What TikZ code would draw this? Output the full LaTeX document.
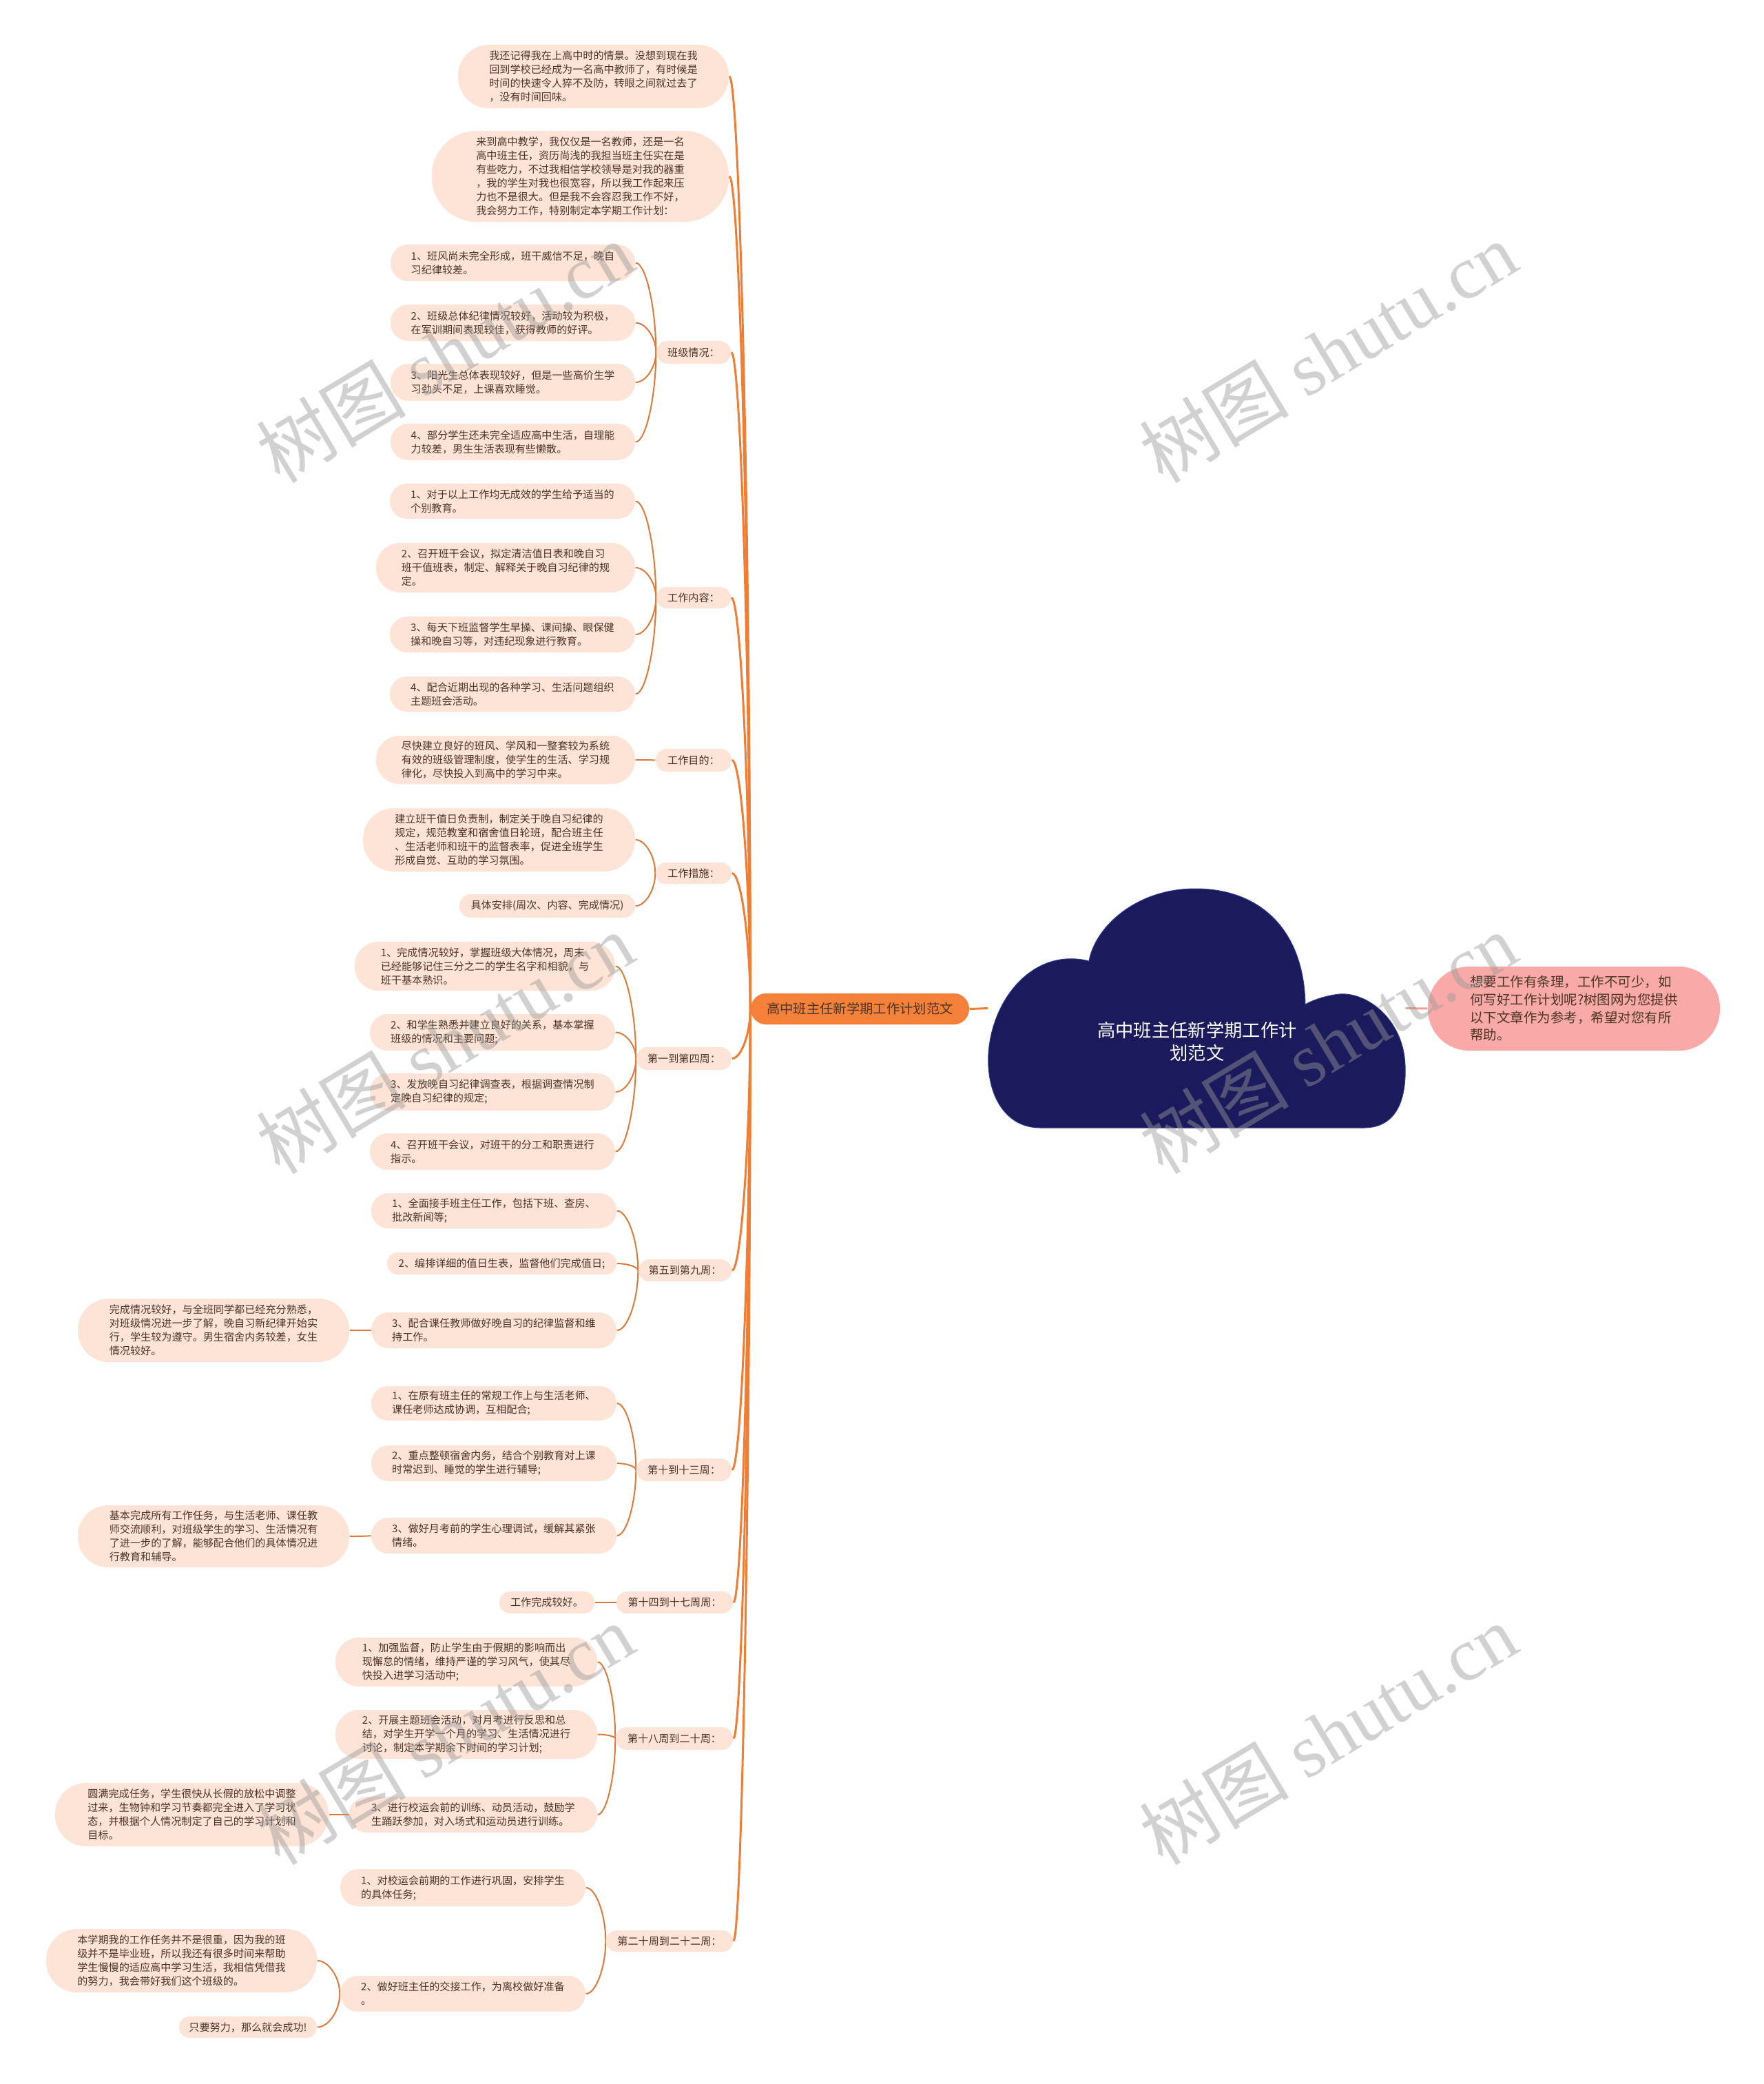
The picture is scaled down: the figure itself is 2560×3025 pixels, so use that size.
\documentclass[tikz,border=0pt]{standalone}
\usepackage{fontspec}
\setmainfont{Noto Sans CJK SC}
\newfontfamily\wmserif{Liberation Serif}
\usetikzlibrary{calc}
\definecolor{peach}{HTML}{FDE4D6}
\definecolor{txt}{HTML}{4A3526}
\definecolor{trunkc}{HTML}{F07D33}
\definecolor{branchc}{HTML}{DD7A3A}
\definecolor{mainfill}{HTML}{F5803A}
\definecolor{navy}{HTML}{1B1A5C}
\definecolor{navyedge}{HTML}{2C3C8C}
\definecolor{pinkfill}{HTML}{F9AAA8}
\definecolor{pinkline}{HTML}{EBA090}
\definecolor{wmgray}{HTML}{9A9A9A}
\pgfdeclarelayer{bg}
\pgfdeclarelayer{paper}
\pgfsetlayers{paper,bg,main}
\tikzset{
  pill/.style={fill=peach, text=txt, inner sep=0pt, align=left, font=\fontsize{4.3pt}{5.69pt}\selectfont},
  mainnode/.style={fill=mainfill, text=txt, inner sep=0pt, align=center, font=\fontsize{5.5pt}{7pt}\selectfont},
  rightnode/.style={fill=pinkfill, text=txt, inner sep=0pt, align=left, font=\fontsize{5.55pt}{7.3pt}\selectfont},
  trunk/.style={draw=trunkc, line width=0.3mm},
  branch/.style={draw=branchc, line width=0.2mm},
  pinkconn/.style={draw=pinkline, line width=0.3mm},
  wmark/.style={rotate=31, text=wmgray, opacity=0.45, inner sep=0pt, font=\fontsize{31pt}{31pt}\selectfont},
}
\newcommand\pn[7][pill]{%
  \pgfmathsetmacro\pw{(#5-#3)*0.1}%
  \pgfmathsetmacro\ph{(#6-#4)*0.1}%
  \pgfmathsetmacro\pr{\ph*0.49}%
  \node[#1, minimum width=\pw mm, minimum height=\ph mm, rounded corners=\pr mm] (#2) at ({(#3+#5)/2},{(#4+#6)/2}) {#7};}
\newcommand\conn[3][branch]{%
  \begin{pgfonlayer}{bg}
  \draw[#1] let \p1=(#2), \p2=(#3) in (\p1) .. controls (\x1,{\y1+0.5*(\y2-\y1)}) and ({\x2+0.5*(\x1-\x2)},\y2) .. (\p2);
  \end{pgfonlayer}}
\begin{document}
\begin{tikzpicture}[x=0.1mm,y=-0.1mm]
\useasboundingbox (0,0) rectangle (2560,3025);
\begin{pgfonlayer}{paper}
\fill[white] (0,0) rectangle (2560,3025);
\end{pgfonlayer}

% cloud
\fill[navy, draw=navyedge, line width=0.1mm] (1510,1637) -- (1980,1637)
  .. controls (2025,1637) and (2042,1600) .. (2040,1547)
  .. controls (2038,1480) and (1985,1440) .. (1945,1443)
  .. controls (1925,1445) and (1905,1452) .. (1895,1458)
  .. controls (1893,1350) and (1830,1290) .. (1735,1290)
  .. controls (1650,1290) and (1590,1345) .. (1581,1395)
  .. controls (1500,1375) and (1440,1450) .. (1435,1530)
  .. controls (1432,1590) and (1460,1637) .. (1510,1637) -- cycle;
\node[minimum width=60.5mm, minimum height=34.7mm, inner sep=0pt] (cloud) at (1737.5,1463.5) {};
\node[text=white, align=center, inner sep=0pt, font=\fontsize{7.5pt}{9.4pt}\selectfont] (cloudtext) at (1738,1512) {高中班主任新学期工作计\\划范文};

% main and right
\pn[mainnode]{main}{1090}{1442}{1407}{1487}{高中班主任新学期工作计划范文}
\pn[rightnode]{right}{2073}{1403}{2497}{1525}{想要工作有条理，工作不可少，如\\何写好工作计划呢?树图网为您提供\\以下文章作为参考，希望对您有所\\帮助。}

% top text nodes
\pn{t1}{665}{65}{1058}{157}{我还记得我在上高中时的情景。没想到现在我\\回到学校已经成为一名高中教师了，有时候是\\时间的快速令人猝不及防，转眼之间就过去了\\，没有时间回味。}
\pn{t2}{627}{190}{1058}{322}{来到高中教学，我仅仅是一名教师，还是一名\\高中班主任，资历尚浅的我担当班主任实在是\\有些吃力，不过我相信学校领导是对我的器重\\，我的学生对我也很宽容，所以我工作起来压\\力也不是很大。但是我不会容忍我工作不好，\\我会努力工作，特别制定本学期工作计划：}

% 班级情况
\pn{La}{953}{495}{1061}{528}{班级情况：}
\pn{a1}{567}{355}{922}{408}{1、班风尚未完全形成，班干威信不足，晚自\\习纪律较差。}
\pn{a2}{567}{442}{922}{495}{2、班级总体纪律情况较好，活动较为积极，\\在军训期间表现较佳，获得教师的好评。}
\pn{a3}{567}{528}{922}{582}{3、阳光生总体表现较好，但是一些高价生学\\习劲头不足，上课喜欢睡觉。}
\pn{a4}{567}{615}{922}{668}{4、部分学生还未完全适应高中生活，自理能\\力较差，男生生活表现有些懒散。}

% 工作内容
\pn{Lb}{953}{852}{1061}{883}{工作内容：}
\pn{b1}{566}{702}{922}{753}{1、对于以上工作均无成效的学生给予适当的\\个别教育。}
\pn{b2}{546}{788}{922}{860}{2、召开班干会议，拟定清洁值日表和晚自习\\班干值班表，制定、解释关于晚自习纪律的规\\定。}
\pn{b3}{566}{895}{922}{947}{3、每天下班监督学生早操、课间操、眼保健\\操和晚自习等，对违纪现象进行教育。}
\pn{b4}{566}{982}{922}{1033}{4、配合近期出现的各种学习、生活问题组织\\主题班会活动。}

% 工作目的
\pn{Lc}{952}{1087}{1062}{1120}{工作目的：}
\pn{c1}{546}{1068}{922}{1138}{尽快建立良好的班风、学风和一整套较为系统\\有效的班级管理制度，使学生的生活、学习规\\律化，尽快投入到高中的学习中来。}

% 工作措施
\pn{Ld}{952}{1252}{1062}{1283}{工作措施：}
\pn{d1}{527}{1173}{922}{1265}{建立班干值日负责制，制定关于晚自习纪律的\\规定，规范教室和宿舍值日轮班，配合班主任\\、生活老师和班干的监督表率，促进全班学生\\形成自觉、互助的学习氛围。}
\pn{d2}{667}{1298}{922}{1332}{具体安排(周次、内容、完成情况)}

% 第一到第四周
\pn{Le}{924}{1520}{1062}{1553}{第一到第四周：}
\pn{e1}{515}{1367}{893}{1438}{1、完成情况较好，掌握班级大体情况，周末\\已经能够记住三分之二的学生名字和相貌，与\\班干基本熟识。}
\pn{e2}{537}{1472}{893}{1525}{2、和学生熟悉并建立良好的关系，基本掌握\\班级的情况和主要问题;}
\pn{e3}{537}{1558}{893}{1612}{3、发放晚自习纪律调查表，根据调查情况制\\定晚自习纪律的规定;}
\pn{e4}{537}{1645}{893}{1698}{4、召开班干会议，对班干的分工和职责进行\\指示。}

% 第五到第九周
\pn{Lf}{927}{1828}{1062}{1860}{第五到第九周：}
\pn{f1}{539}{1732}{895}{1783}{1、全面接手班主任工作，包括下班、查房、\\批改新闻等;}
\pn{f2}{562}{1818}{895}{1850}{2、编排详细的值日生表，监督他们完成值日;}
\pn{f3}{539}{1905}{895}{1957}{3、配合课任教师做好晚自习的纪律监督和维\\持工作。}
\pn{f3leaf}{113}{1885}{507}{1977}{完成情况较好，与全班同学都已经充分熟悉，\\对班级情况进一步了解，晚自习新纪律开始实\\行，学生较为遵守。男生宿舍内务较差，女生\\情况较好。}

% 第十到十三周
\pn{Lg}{924}{2117}{1062}{2150}{第十到十三周：}
\pn{g1}{539}{2012}{895}{2062}{1、在原有班主任的常规工作上与生活老师、\\课任老师达成协调，互相配合;}
\pn{g2}{539}{2098}{895}{2150}{2、重点整顿宿舍内务，结合个别教育对上课\\时常迟到、睡觉的学生进行辅导;}
\pn{g3}{539}{2203}{895}{2255}{3、做好月考前的学生心理调试，缓解其紧张\\情绪。}
\pn{g3leaf}{113}{2185}{507}{2275}{基本完成所有工作任务，与生活老师、课任教\\师交流顺利，对班级学生的学习、生活情况有\\了进一步的了解，能够配合他们的具体情况进\\行教育和辅导。}

% 第十四到十七周周
\pn{Lh}{895}{2310}{1064}{2342}{第十四到十七周周：}
\pn{h1}{725}{2310}{863}{2342}{工作完成较好。}

% 第十八周到二十周
\pn{Li}{894}{2507}{1064}{2540}{第十八周到二十周：}
\pn{i1}{487}{2377}{867}{2448}{1、加强监督，防止学生由于假期的影响而出\\现懈怠的情绪，维持严谨的学习风气，使其尽\\快投入进学习活动中;}
\pn{i2}{487}{2482}{867}{2553}{2、开展主题班会活动，对月考进行反思和总\\结，对学生开学一个月的学习、生活情况进行\\讨论，制定本学期余下时间的学习计划;}
\pn{i3}{507}{2608}{867}{2660}{3、进行校运会前的训练、动员活动，鼓励学\\生踊跃参加，对入场式和运动员进行训练。}
\pn{i3leaf}{80}{2588}{477}{2680}{圆满完成任务，学生很快从长假的放松中调整\\过来，生物钟和学习节奏都完全进入了学习状\\态，并根据个人情况制定了自己的学习计划和\\目标。}

% 第二十周到二十二周
\pn{Lj}{880}{2802}{1064}{2833}{第二十周到二十二周：}
\pn{j1}{494}{2713}{850}{2767}{1、对校运会前期的工作进行巩固，安排学生\\的具体任务;}
\pn{j2}{494}{2868}{850}{2920}{2、做好班主任的交接工作，为离校做好准备\\。}
\pn{j2leafa}{67}{2800}{460}{2892}{本学期我的工作任务并不是很重，因为我的班\\级并不是毕业班，所以我还有很多时间来帮助\\学生慢慢的适应高中学习生活，我相信凭借我\\的努力，我会带好我们这个班级的。}
\pn{j2leafb}{260}{2927}{460}{2958}{只要努力，那么就会成功!}

% connectors
\foreach \nd in {t1,t2,La,Lb,Lc,Ld,Le,Lf,Lg,Lh,Li,Lj}{\conn[trunk]{main.west}{\nd.east}}
\foreach \nd in {a1,a2,a3,a4}{\conn{La.west}{\nd.east}}
\foreach \nd in {b1,b2,b3,b4}{\conn{Lb.west}{\nd.east}}
\conn{Lc.west}{c1.east}
\foreach \nd in {d1,d2}{\conn{Ld.west}{\nd.east}}
\foreach \nd in {e1,e2,e3,e4}{\conn{Le.west}{\nd.east}}
\foreach \nd in {f1,f2,f3}{\conn{Lf.west}{\nd.east}}
\foreach \nd in {g1,g2,g3}{\conn{Lg.west}{\nd.east}}
\conn{Lh.west}{h1.east}
\foreach \nd in {i1,i2,i3}{\conn{Li.west}{\nd.east}}
\foreach \nd in {j1,j2}{\conn{Lj.west}{\nd.east}}
\conn{f3.west}{f3leaf.east}
\conn{g3.west}{g3leaf.east}
\conn{i3.west}{i3leaf.east}
\conn{j2.west}{j2leafa.east}
\conn{j2.west}{j2leafb.east}
\begin{pgfonlayer}{bg}
\draw[trunk] (main.east) -- (cloud.west);
\draw[pinkconn] (cloud.east) -- (right.west);
\end{pgfonlayer}

% watermarks
\foreach \wx/\wy [count=\k] in {646/511,646/1514,646/2517,1928/511,1928/1514,1928/2517}{
  \node[wmark] (wm\k) at (\wx,\wy) {树图 {\wmserif shutu.cn}};
}
\end{tikzpicture}
\end{document}
